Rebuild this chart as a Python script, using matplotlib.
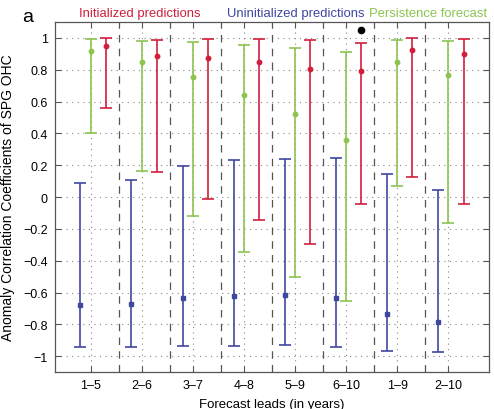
import numpy as np
import matplotlib
matplotlib.use('Agg')
import matplotlib.pyplot as plt

plt.rcParams['font.family'] = ['Liberation Sans', 'DejaVu Sans']

leads = ['1\u20135', '2\u20136', '3\u20137', '4\u20138', '5\u20139', '6\u201310', '1\u20139', '2\u201310']

# initialized predictions (red)
init_acc = [0.95, 0.889, 0.873, 0.85, 0.805, 0.79, 0.922, 0.899]
init_hi = [0.998, 0.989, 0.991, 0.99, 0.987, 0.97, 0.998, 0.995]
init_lo = [0.562, 0.156, -0.011, -0.146, -0.297, -0.045, 0.123, -0.043]

# uninitialized predictions (blue)
unin_acc = [-0.68, -0.67, -0.632, -0.619, -0.613, -0.632, -0.733, -0.783]
unin_hi = [0.09, 0.11, 0.194, 0.23, 0.238, 0.247, 0.144, 0.045]
unin_lo = [-0.943, -0.94, -0.934, -0.934, -0.932, -0.943, -0.966, -0.974]

# persistence forecast (green)
pers_acc = [0.915, 0.85, 0.757, 0.638, 0.52, 0.36, 0.85, 0.768]
pers_hi = [0.99, 0.982, 0.974, 0.955, 0.938, 0.913, 0.987, 0.979]
pers_lo = [0.405, 0.165, -0.121, -0.346, -0.503, -0.653, 0.072, -0.163]

# significance marker
star_lead = 5
star_val = 1.052

red = '#cf1f3c'
blue = '#3f479e'
green = '#8dc450'

x = np.arange(1, len(leads) + 1)

fig = plt.figure(figsize=(4.94, 4.10), dpi=100)
ax = fig.add_axes([0.111, 0.09, 0.879, 0.854])

def bars(xx, acc, lo, hi, col, mk):
    acc = np.array(acc)
    yerr = [acc - np.array(lo), np.array(hi) - acc]
    ax.errorbar(xx, acc, yerr=yerr, fmt=mk, color=col, ecolor=col,
                elinewidth=1.2, capsize=4.3, capthick=1.2, markersize=3.2, zorder=3)

bars(x - 0.2, unin_acc, unin_lo, unin_hi, blue, 's')
bars(x, pers_acc, pers_lo, pers_hi, green, 'o')
bars(x + 0.3, init_acc, init_lo, init_hi, red, 'o')

ax.plot(x[star_lead] + 0.3, star_val, 'o', color='k', markersize=4.5, zorder=4)

for d in x[:-1] + 0.55:
    ax.axvline(d, color='#555555', linestyle=(0, (6, 5)), linewidth=0.9, zorder=1)

ax.set_xlim(0.3, 8.8)
ax.set_ylim(-1.1, 1.1)
ax.set_xticks(x)
ax.set_xticklabels(leads)
yt = np.round(np.arange(-1, 1.01, 0.2), 1)
ax.set_yticks(yt)
ax.set_yticklabels([('%g' % v).replace('-', '\u2212') if v != 0 else '0' for v in yt])
ax.grid(True, linestyle=(0, (1, 4)), color='#888888', linewidth=0.8)
ax.set_axisbelow(True)
ax.tick_params(direction='in', length=4, top=True, right=True, labelsize=9,
               color='#555555', pad=5)
for s in ax.spines.values():
    s.set_color('#555555')
    s.set_linewidth(0.9)

ax.set_xlabel('Forecast leads (in years)', fontsize=9.5, labelpad=5)
ax.set_ylabel('Anomaly Correlation Coefficients of SPG OHC', fontsize=10, labelpad=6)

fig.text(0.055, 0.958, 'a', fontsize=14, ha='center', va='center')
fig.text(0.16, 0.966, 'Initialized predictions', color=red, fontsize=9.4, ha='left', va='center')
fig.text(0.46, 0.966, 'Uninitialized predictions', color=blue, fontsize=9.4, ha='left', va='center')
fig.text(0.747, 0.966, 'Persistence forecast', color=green, fontsize=9.4, ha='left', va='center')

fig.savefig('out.png', dpi=100)
